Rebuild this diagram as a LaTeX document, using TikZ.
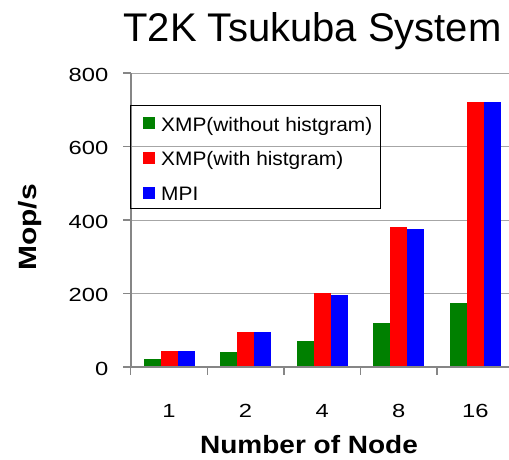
\documentclass[tikz,border=0pt]{standalone}
\usepackage{fontspec}
\setmainfont{Liberation Sans}
\definecolor{xmpgreen}{RGB}{0,128,0}
\definecolor{xmpred}{RGB}{255,0,0}
\definecolor{mpiblue}{RGB}{0,0,255}
\definecolor{gridgray}{RGB}{166,166,166}
\definecolor{axisgray}{RGB}{134,134,134}

\begin{document}
\begin{tikzpicture}[x=1pt,y=-1pt,
    gridline/.style={gridgray,line width=1pt},
    axisline/.style={axisgray,line width=1.5pt},
    numlabel/.style={font=\fontsize{19}{19}\selectfont,xscale=1.25,inner sep=0pt},
    keylabel/.style={font=\fontsize{19.5}{19.5}\selectfont,xscale=1.07,inner sep=0pt,anchor=base west},
    axislabel/.style={font=\fontsize{25}{25}\selectfont\bfseries,inner sep=0pt}]
  \useasboundingbox (0,0) rectangle (509,459);
  \node[font=\fontsize{40}{40}\selectfont,inner sep=0pt,anchor=base] (title) at (312.5,41.7) {T2K Tsukuba System};
  % grid and value axis
  \foreach \v in {200,400,600,800} \draw[gridline] (131,{367-\v*0.3675}) -- (509,{367-\v*0.3675});
  \foreach \v in {0,200,400,600,800} {
    \draw[axisline] (123,{367-\v*0.3675}) -- (131,{367-\v*0.3675});
    \node[numlabel,anchor=base east] (val\v) at (108.5,{375-\v*0.3675}) {\v};
  }
  % bars
  \foreach \n/\g/\r/\b [count=\i from 0] in {1/21/43.5/43.5,2/40/95/95,4/70/201/196,8/119/381/375,16/175/721/721} {
    \pgfmathsetmacro\xa{130.7+76.6*\i+12.8}
    \fill[xmpgreen] (\xa,367) rectangle ++(17,{-\g*0.3675});
    \fill[xmpred] ({\xa+17},367) rectangle ++(17,{-\r*0.3675});
    \fill[mpiblue] ({\xa+34},367) rectangle ++(17,{-\b*0.3675});
    \node[numlabel,anchor=base] (cat\n) at ({\xa+25.5},417) {\n};
  }
  \draw[axisline] (131,73) -- (131,367);
  \draw[axisline] (123,367) -- (509,367);
  \foreach \k in {0,...,4} \draw[axisline] ({130.7+76.6*\k},367) -- ({130.7+76.6*\k},375);
  % legend
  \draw[black,line width=1pt] (130.7,105.7) rectangle (380,208);
  \fill[xmpgreen] (143.3,117) rectangle ++(12,12);
  \node[keylabel] (keyxmp) at (161,131) {XMP(without histgram)};
  \fill[xmpred] (143.3,152) rectangle ++(12,12);
  \node[keylabel] (keyhist) at (161,165.5) {XMP(with histgram)};
  \fill[mpiblue] (143.3,186.5) rectangle ++(12,12);
  \node[keylabel] (keympi) at (161,200) {MPI};
  % axis titles
  \node[axislabel,rotate=90,xscale=1.2] (ylab) at (30,227.5) {Mop/s};
  \node[axislabel,xscale=1.12,anchor=base] (xlab) at (309,453.3) {Number of Node};
\end{tikzpicture}
\end{document}
